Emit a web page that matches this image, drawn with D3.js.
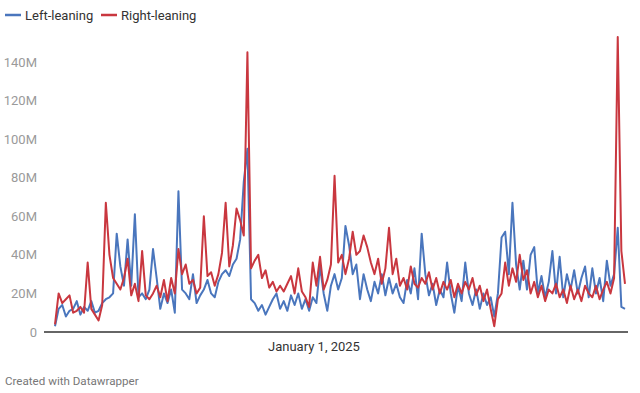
<!DOCTYPE html>
<meta charset="utf-8">
<head>
  <script src="https://cdn.jsdelivr.net/npm/d3@7"></script>
  <style>
    body { margin: 0; background: #fff; font-family: Roboto, "Noto Sans", sans-serif; }
    svg text { font-family: Roboto, "Noto Sans", sans-serif; }
  </style>
</head>
<body>
  <svg id="chart"></svg>
  <script>
    // one sample every 3 days starting June 1, 2024 (values in millions)
    const startDate = new Date(2024, 5, 1);
    const stepDays = 3;

    const leftLeaning = [
      3, 12, 14, 8, 11, 12, 16, 9, 13, 11,
      16, 10, 11, 15, 17, 18, 20, 51, 34, 24,
      48, 24, 61, 18, 20, 17, 22, 43, 28, 12,
      20, 15, 22, 10, 73, 22, 20, 17, 30, 15,
      19, 22, 27, 20, 18, 26, 30, 32, 29, 35,
      38, 48, 78, 95, 17, 15, 11, 14, 9, 13,
      17, 20, 12, 16, 11, 19, 14, 20, 12, 17,
      11, 18, 15, 34, 20, 11, 24, 30, 22, 28,
      55, 45, 30, 35, 17, 30, 22, 16, 26, 20,
      30, 19, 28, 20, 25, 18, 15, 27, 20, 33,
      17, 51, 30, 19, 25, 14, 22, 18, 36, 20,
      10, 24, 16, 36, 20, 14, 22, 12, 20, 14,
      18, 8, 20, 49, 52, 30, 67, 35, 22, 37,
      22, 40, 44, 20, 29, 18, 26, 42, 20, 39,
      18, 30, 22, 32, 20, 28, 34, 18, 33, 20,
      28, 16, 37, 24, 30, 54, 13, 12
    ];

    const rightLeaning = [
      4, 20, 15, 17, 19, 10, 11, 13, 10, 36,
      12, 9, 6, 14, 67, 40, 28, 25, 22, 28,
      38, 19, 25, 16, 42, 19, 17, 20, 24, 18,
      27, 16, 28, 20, 43, 30, 35, 25, 27, 20,
      23, 60, 29, 31, 24, 30, 41, 67, 34, 45,
      64, 58, 50, 145, 33, 37, 40, 28, 32, 23,
      26, 21, 24, 21, 25, 29, 20, 33, 21, 18,
      13, 36, 24, 39, 22, 27, 35, 81, 36, 40,
      30, 38, 52, 40, 42, 50, 44, 36, 30, 38,
      25, 33, 54, 30, 38, 24, 28, 22, 34, 25,
      23, 28, 25, 31, 22, 28, 20, 26, 22, 27,
      18, 25, 20, 26, 22, 28, 19, 24, 16, 22,
      12, 3, 17, 20, 36, 24, 33, 26, 40, 27,
      32, 20, 26, 18, 24, 16, 22, 20, 25, 18,
      22, 15, 24, 17, 22, 16, 24, 20, 18, 24,
      17, 22, 26, 20, 28, 153, 42, 25
    ];

    const yTicks = [0, 20, 40, 60, 80, 100, 120, 140];
    const xTicks = [new Date(2025, 0, 1)];
    const seriesNames = ["Left-leaning", "Right-leaning"];
    const seriesColors = ["#4a76bd", "#c9373f"];

    const dates = leftLeaning.map(function(d, i) { return d3.timeDay.offset(startDate, i * stepDays); });

    const W = 640, H = 393;
    const svg = d3.select("#chart").attr("width", W).attr("height", H);

    const x = d3.scaleTime()
      .domain([dates[0], dates[dates.length - 1]])
      .range([55, 625]);
    const y = d3.scaleLinear().domain([0, 140]).range([332, 62]);

    // y labels
    svg.append("g")
      .selectAll("text")
      .data(yTicks)
      .enter().append("text")
      .attr("x", 37)
      .attr("y", function(d) { return y(d); })
      .attr("dy", "0.35em")
      .attr("text-anchor", "end")
      .attr("font-size", 13)
      .attr("fill", "#9a9a9a")
      .text(function(d) { return d === 0 ? "0" : d + "M"; });

    // lines
    const series = [leftLeaning, rightLeaning];
    const line = d3.line()
      .x(function(d, i) { return x(dates[i]); })
      .y(function(d) { return y(d); });

    series.forEach(function(vals, k) {
      svg.append("path")
        .datum(vals)
        .attr("fill", "none")
        .attr("stroke", seriesColors[k])
        .attr("stroke-width", 2)
        .attr("stroke-linejoin", "round")
        .attr("d", line);
    });

    // baseline
    svg.append("line")
      .attr("x1", 44).attr("x2", 628)
      .attr("y1", y(0)).attr("y2", y(0))
      .attr("stroke", "#333")
      .attr("stroke-width", 1.5);

    // x axis label
    svg.append("g")
      .selectAll("text")
      .data(xTicks)
      .enter().append("text")
      .attr("x", function(d) { return x(d); })
      .attr("y", 351)
      .attr("text-anchor", "middle")
      .attr("font-size", 13)
      .attr("fill", "#333")
      .text(d3.timeFormat("%B %-d, %Y"));

    // legend
    const legendX = [5, 101];
    seriesNames.forEach(function(name, k) {
      const g = svg.append("g").attr("transform", "translate(" + legendX[k] + ",15)");
      g.append("line")
        .attr("x1", 0).attr("x2", 16)
        .attr("y1", 0).attr("y2", 0)
        .attr("stroke", seriesColors[k])
        .attr("stroke-width", 2.5);
      g.append("text")
        .attr("x", 20)
        .attr("y", 0)
        .attr("dy", "0.35em")
        .attr("font-size", 13)
        .attr("fill", "#333")
        .text(name);
    });

    // footer
    svg.append("text")
      .attr("x", 5)
      .attr("y", 385)
      .attr("font-size", 11.6)
      .attr("fill", "#777")
      .text("Created with Datawrapper");
  </script>
</body>
